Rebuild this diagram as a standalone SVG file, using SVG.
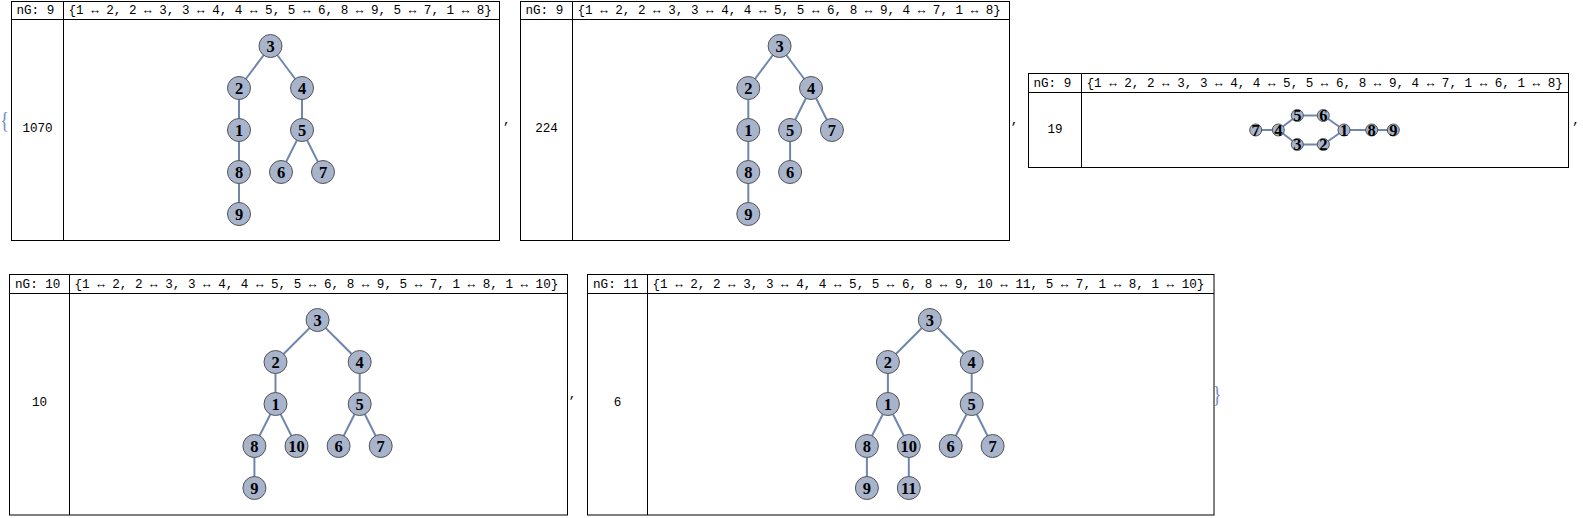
<svg xmlns="http://www.w3.org/2000/svg" width="1583" height="518" viewBox="0 0 1583 518">
<style>
.frame{fill:none;stroke:#000;stroke-width:1}
.rule{stroke:#000;stroke-width:1}
.mono{font-family:"Liberation Mono","Courier New",monospace;font-size:12.6px;fill:#000}
.val{font-family:"Liberation Mono","Courier New",monospace;font-size:12.6px;fill:#000;text-anchor:middle}
.brace{font-family:"Liberation Serif","Times New Roman",serif;font-size:18px;fill:#6d8cc4;text-anchor:middle}
.edges line{stroke:#6f86ad;stroke-width:2}
.node circle{fill:#a7b4cc;stroke:#555;stroke-width:1}
.node text{font-family:"Liberation Serif","Times New Roman",serif;font-weight:bold;font-size:16.5px;fill:#000;text-anchor:middle}
</style>

<text class="brace" transform="translate(4.5,128) scale(1,1.3)">{</text>
<text class="brace" transform="translate(1217,402) scale(1,1.3)">}</text>
<text class="val" x="506.7" y="123.5">,</text>
<text class="val" x="1014.5" y="123.5">,</text>
<text class="val" x="1576" y="123.5">,</text>
<text class="val" x="572.5" y="397.5">,</text>

<!-- Panel 1 -->
<g id="panel1">
<rect class="frame" x="11.5" y="1.5" width="488" height="239"/>
<line class="rule" x1="11.5" y1="19.5" x2="499.5" y2="19.5"/>
<line class="rule" x1="63.5" y1="1.5" x2="63.5" y2="240.5"/>
<text class="mono" x="16.5" y="14" textLength="37.8" lengthAdjust="spacing">nG: 9</text>
<text class="mono" x="68.5" y="14" textLength="423.4" lengthAdjust="spacing">{1 ↔ 2, 2 ↔ 3, 3 ↔ 4, 4 ↔ 5, 5 ↔ 6, 8 ↔ 9, 5 ↔ 7, 1 ↔ 8}</text>
<text class="val" x="37.5" y="132">1070</text>
<g id="p1-edges" class="edges">
<line x1="239" y1="130" x2="239" y2="88"/>
<line x1="239" y1="88" x2="270.5" y2="46"/>
<line x1="270.5" y1="46" x2="302" y2="88"/>
<line x1="302" y1="88" x2="302" y2="130"/>
<line x1="302" y1="130" x2="281" y2="172"/>
<line x1="239" y1="172" x2="239" y2="214"/>
<line x1="302" y1="130" x2="323" y2="172"/>
<line x1="239" y1="130" x2="239" y2="172"/>
</g>
<g id="p1-n1" class="node"><circle cx="239" cy="130" r="11.5"/><text x="239" y="135.5">1</text></g>
<g id="p1-n2" class="node"><circle cx="239" cy="88" r="11.5"/><text x="239" y="93.5">2</text></g>
<g id="p1-n3" class="node"><circle cx="270.5" cy="46" r="11.5"/><text x="270.5" y="51.5">3</text></g>
<g id="p1-n4" class="node"><circle cx="302" cy="88" r="11.5"/><text x="302" y="93.5">4</text></g>
<g id="p1-n5" class="node"><circle cx="302" cy="130" r="11.5"/><text x="302" y="135.5">5</text></g>
<g id="p1-n6" class="node"><circle cx="281" cy="172" r="11.5"/><text x="281" y="177.5">6</text></g>
<g id="p1-n7" class="node"><circle cx="323" cy="172" r="11.5"/><text x="323" y="177.5">7</text></g>
<g id="p1-n8" class="node"><circle cx="239" cy="172" r="11.5"/><text x="239" y="177.5">8</text></g>
<g id="p1-n9" class="node"><circle cx="239" cy="214" r="11.5"/><text x="239" y="219.5">9</text></g>
</g>

<!-- Panel 2 -->
<g id="panel2">
<rect class="frame" x="520.5" y="1.5" width="489" height="239"/>
<line class="rule" x1="520.5" y1="19.5" x2="1009.5" y2="19.5"/>
<line class="rule" x1="572.5" y1="1.5" x2="572.5" y2="240.5"/>
<text class="mono" x="525.5" y="14" textLength="37.8" lengthAdjust="spacing">nG: 9</text>
<text class="mono" x="577.5" y="14" textLength="423.4" lengthAdjust="spacing">{1 ↔ 2, 2 ↔ 3, 3 ↔ 4, 4 ↔ 5, 5 ↔ 6, 8 ↔ 9, 4 ↔ 7, 1 ↔ 8}</text>
<text class="val" x="546.5" y="132">224</text>
<g id="p2-edges" class="edges">
<line x1="748.3" y1="130" x2="748.3" y2="88"/>
<line x1="748.3" y1="88" x2="779.6" y2="46"/>
<line x1="779.6" y1="46" x2="811" y2="88"/>
<line x1="811" y1="88" x2="790.1" y2="130"/>
<line x1="790.1" y1="130" x2="790.1" y2="172"/>
<line x1="748.3" y1="172" x2="748.3" y2="214"/>
<line x1="811" y1="88" x2="831.9" y2="130"/>
<line x1="748.3" y1="130" x2="748.3" y2="172"/>
</g>
<g id="p2-n1" class="node"><circle cx="748.3" cy="130" r="11.5"/><text x="748.3" y="135.5">1</text></g>
<g id="p2-n2" class="node"><circle cx="748.3" cy="88" r="11.5"/><text x="748.3" y="93.5">2</text></g>
<g id="p2-n3" class="node"><circle cx="779.6" cy="46" r="11.5"/><text x="779.6" y="51.5">3</text></g>
<g id="p2-n4" class="node"><circle cx="811" cy="88" r="11.5"/><text x="811" y="93.5">4</text></g>
<g id="p2-n5" class="node"><circle cx="790.1" cy="130" r="11.5"/><text x="790.1" y="135.5">5</text></g>
<g id="p2-n6" class="node"><circle cx="790.1" cy="172" r="11.5"/><text x="790.1" y="177.5">6</text></g>
<g id="p2-n7" class="node"><circle cx="831.9" cy="130" r="11.5"/><text x="831.9" y="135.5">7</text></g>
<g id="p2-n8" class="node"><circle cx="748.3" cy="172" r="11.5"/><text x="748.3" y="177.5">8</text></g>
<g id="p2-n9" class="node"><circle cx="748.3" cy="214" r="11.5"/><text x="748.3" y="219.5">9</text></g>
</g>

<!-- Panel 3 -->
<g id="panel3">
<rect class="frame" x="1028.5" y="73.5" width="540" height="94"/>
<line class="rule" x1="1028.5" y1="92.5" x2="1568.5" y2="92.5"/>
<line class="rule" x1="1081.5" y1="73.5" x2="1081.5" y2="167.5"/>
<text class="mono" x="1033.5" y="87" textLength="37.8" lengthAdjust="spacing">nG: 9</text>
<text class="mono" x="1086.5" y="87" textLength="476.3" lengthAdjust="spacing">{1 ↔ 2, 2 ↔ 3, 3 ↔ 4, 4 ↔ 5, 5 ↔ 6, 8 ↔ 9, 4 ↔ 7, 1 ↔ 6, 1 ↔ 8}</text>
<text class="val" x="1055" y="133">19</text>
<g id="p3-edges" class="edges">
<line x1="1344" y1="130" x2="1323.3" y2="144.5"/>
<line x1="1323.3" y1="144.5" x2="1297.3" y2="144.5"/>
<line x1="1297.3" y1="144.5" x2="1278.3" y2="130"/>
<line x1="1278.3" y1="130" x2="1297.3" y2="115.5"/>
<line x1="1297.3" y1="115.5" x2="1323.3" y2="115.5"/>
<line x1="1371.7" y1="130" x2="1393.3" y2="130"/>
<line x1="1278.3" y1="130" x2="1255.7" y2="130"/>
<line x1="1344" y1="130" x2="1323.3" y2="115.5"/>
<line x1="1344" y1="130" x2="1371.7" y2="130"/>
</g>
<g id="p3-n1" class="node"><circle cx="1344" cy="130" r="6"/><text x="1344" y="135.5">1</text></g>
<g id="p3-n2" class="node"><circle cx="1323.3" cy="144.5" r="6"/><text x="1323.3" y="150">2</text></g>
<g id="p3-n3" class="node"><circle cx="1297.3" cy="144.5" r="6"/><text x="1297.3" y="150">3</text></g>
<g id="p3-n4" class="node"><circle cx="1278.3" cy="130" r="6"/><text x="1278.3" y="135.5">4</text></g>
<g id="p3-n5" class="node"><circle cx="1297.3" cy="115.5" r="6"/><text x="1297.3" y="121">5</text></g>
<g id="p3-n6" class="node"><circle cx="1323.3" cy="115.5" r="6"/><text x="1323.3" y="121">6</text></g>
<g id="p3-n7" class="node"><circle cx="1255.7" cy="130" r="6"/><text x="1255.7" y="135.5">7</text></g>
<g id="p3-n8" class="node"><circle cx="1371.7" cy="130" r="6"/><text x="1371.7" y="135.5">8</text></g>
<g id="p3-n9" class="node"><circle cx="1393.3" cy="130" r="6"/><text x="1393.3" y="135.5">9</text></g>
</g>

<!-- Panel 4 -->
<g id="panel4">
<rect class="frame" x="9.5" y="274.5" width="558" height="240.5"/>
<line class="rule" x1="9.5" y1="293.5" x2="567.5" y2="293.5"/>
<line class="rule" x1="69.5" y1="274.5" x2="69.5" y2="515"/>
<text class="mono" x="15" y="288" textLength="45.4" lengthAdjust="spacing">nG: 10</text>
<text class="mono" x="74.5" y="288" textLength="483.8" lengthAdjust="spacing">{1 ↔ 2, 2 ↔ 3, 3 ↔ 4, 4 ↔ 5, 5 ↔ 6, 8 ↔ 9, 5 ↔ 7, 1 ↔ 8, 1 ↔ 10}</text>
<text class="val" x="39.5" y="406">10</text>
<g id="p4-edges" class="edges">
<line x1="275.5" y1="404" x2="275.5" y2="362"/>
<line x1="275.5" y1="362" x2="317.6" y2="320"/>
<line x1="317.6" y1="320" x2="359.7" y2="362"/>
<line x1="359.7" y1="362" x2="359.7" y2="404"/>
<line x1="359.7" y1="404" x2="338.6" y2="446"/>
<line x1="254.4" y1="446" x2="254.4" y2="488"/>
<line x1="359.7" y1="404" x2="380.7" y2="446"/>
<line x1="275.5" y1="404" x2="254.4" y2="446"/>
<line x1="275.5" y1="404" x2="296.5" y2="446"/>
</g>
<g id="p4-n1" class="node"><circle cx="275.5" cy="404" r="11.5"/><text x="275.5" y="409.5">1</text></g>
<g id="p4-n2" class="node"><circle cx="275.5" cy="362" r="11.5"/><text x="275.5" y="367.5">2</text></g>
<g id="p4-n3" class="node"><circle cx="317.6" cy="320" r="11.5"/><text x="317.6" y="325.5">3</text></g>
<g id="p4-n4" class="node"><circle cx="359.7" cy="362" r="11.5"/><text x="359.7" y="367.5">4</text></g>
<g id="p4-n5" class="node"><circle cx="359.7" cy="404" r="11.5"/><text x="359.7" y="409.5">5</text></g>
<g id="p4-n6" class="node"><circle cx="338.6" cy="446" r="11.5"/><text x="338.6" y="451.5">6</text></g>
<g id="p4-n7" class="node"><circle cx="380.7" cy="446" r="11.5"/><text x="380.7" y="451.5">7</text></g>
<g id="p4-n8" class="node"><circle cx="254.4" cy="446" r="11.5"/><text x="254.4" y="451.5">8</text></g>
<g id="p4-n9" class="node"><circle cx="254.4" cy="488" r="11.5"/><text x="254.4" y="493.5">9</text></g>
<g id="p4-n10" class="node"><circle cx="296.5" cy="446" r="11.5"/><text x="296.5" y="451.5">10</text></g>
</g>

<!-- Panel 5 -->
<g id="panel5">
<rect class="frame" x="587.5" y="274.5" width="626.5" height="240.5"/>
<line class="rule" x1="587.5" y1="293.5" x2="1214" y2="293.5"/>
<line class="rule" x1="647.5" y1="274.5" x2="647.5" y2="515"/>
<text class="mono" x="593" y="288" textLength="45.4" lengthAdjust="spacing">nG: 11</text>
<text class="mono" x="652.5" y="288" textLength="551.9" lengthAdjust="spacing">{1 ↔ 2, 2 ↔ 3, 3 ↔ 4, 4 ↔ 5, 5 ↔ 6, 8 ↔ 9, 10 ↔ 11, 5 ↔ 7, 1 ↔ 8, 1 ↔ 10}</text>
<text class="val" x="617.5" y="406">6</text>
<g id="p5-edges" class="edges">
<line x1="887.9" y1="404" x2="887.9" y2="362"/>
<line x1="887.9" y1="362" x2="929.8" y2="320"/>
<line x1="929.8" y1="320" x2="971.7" y2="362"/>
<line x1="971.7" y1="362" x2="971.7" y2="404"/>
<line x1="971.7" y1="404" x2="950.7" y2="446"/>
<line x1="866.9" y1="446" x2="866.9" y2="488"/>
<line x1="908.8" y1="446" x2="908.8" y2="488"/>
<line x1="971.7" y1="404" x2="992.6" y2="446"/>
<line x1="887.9" y1="404" x2="866.9" y2="446"/>
<line x1="887.9" y1="404" x2="908.8" y2="446"/>
</g>
<g id="p5-n1" class="node"><circle cx="887.9" cy="404" r="11.5"/><text x="887.9" y="409.5">1</text></g>
<g id="p5-n2" class="node"><circle cx="887.9" cy="362" r="11.5"/><text x="887.9" y="367.5">2</text></g>
<g id="p5-n3" class="node"><circle cx="929.8" cy="320" r="11.5"/><text x="929.8" y="325.5">3</text></g>
<g id="p5-n4" class="node"><circle cx="971.7" cy="362" r="11.5"/><text x="971.7" y="367.5">4</text></g>
<g id="p5-n5" class="node"><circle cx="971.7" cy="404" r="11.5"/><text x="971.7" y="409.5">5</text></g>
<g id="p5-n6" class="node"><circle cx="950.7" cy="446" r="11.5"/><text x="950.7" y="451.5">6</text></g>
<g id="p5-n7" class="node"><circle cx="992.6" cy="446" r="11.5"/><text x="992.6" y="451.5">7</text></g>
<g id="p5-n8" class="node"><circle cx="866.9" cy="446" r="11.5"/><text x="866.9" y="451.5">8</text></g>
<g id="p5-n9" class="node"><circle cx="866.9" cy="488" r="11.5"/><text x="866.9" y="493.5">9</text></g>
<g id="p5-n10" class="node"><circle cx="908.8" cy="446" r="11.5"/><text x="908.8" y="451.5">10</text></g>
<g id="p5-n11" class="node"><circle cx="908.8" cy="488" r="11.5"/><text x="908.8" y="493.5">11</text></g>
</g>
</svg>
